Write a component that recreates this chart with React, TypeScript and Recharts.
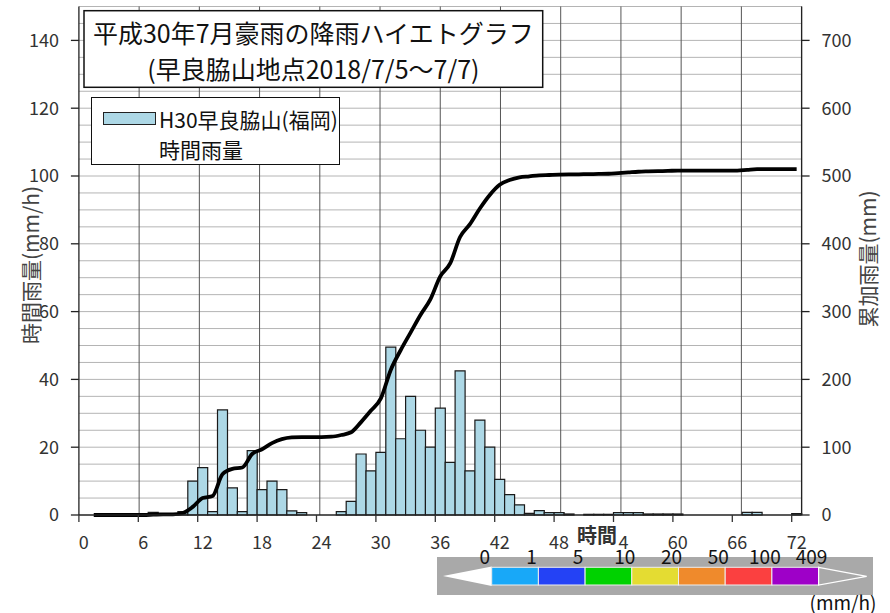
import React from "react";
import { ComposedChart, Bar, Line, XAxis, YAxis, Legend, ReferenceLine } from "recharts";

const FONT = '"Noto Sans CJK JP", "Noto Sans", sans-serif';

// 経過時間 (h)、7/5 0時から 72 時間
const hours = Array.from({ length: 73 }, (_, i) => i);

// 時間雨量 (mm/h)
const hourlyRain = [
  0, 0, 0, 0, 0, 0, 0, 0.8, 0, 0,
  1, 10, 14, 1, 31, 8, 1, 19, 7.5, 10,
  7.5, 1.2, 0.7, 0, 0, 0, 1, 4, 18, 13,
  18.5, 49.5, 22.5, 35, 25, 20, 31.5, 15.5, 42.5, 13,
  28, 20, 10.5, 6, 3, 0.5, 1.3, 0.7, 0.7, 0.3,
  0, 0.2, 0.2, 0.2, 0.7, 0.7, 0.7, 0.3, 0.3, 0.3,
  0.3, 0, 0, 0, 0, 0, 0, 0.8, 0.8, 0,
  0, 0, 0.4,
];

// 累加雨量 (mm)
const totalRain = [
  null, 0, 0, 0, 0, 0, 0, 0.5, 1, 1,
  3, 12, 25, 28, 60, 68, 70, 90, 97, 106,
  112, 114.5, 115, 115, 115, 115.5, 118, 122, 137, 154,
  172, 214, 243, 269, 295, 318, 352, 371, 410, 429,
  452, 472, 487, 494, 498, 499.5, 501, 501.5, 502, 502.3,
  502.5, 502.8, 503, 503.3, 504.3, 505.3, 506.3, 506.8, 507.2, 507.5,
  508, 508, 508, 508, 508, 508, 508, 509, 510, 510,
  510, 510, 510,
];

const rainTicks = [0, 20, 40, 60, 80, 100, 120, 140];
const totalTicks = [0, 100, 200, 300, 400, 500, 600, 700];
const gridTicks = Array.from({ length: 30 }, (_, i) => (i + 1) * 5);
const hourEdgeTicks = [6, 12, 18, 24, 30, 36, 42, 48, 54, 60, 66, 72];

// 雨量階級の凡例
const scaleLabels = ["0", "1", "5", "10", "20", "50", "100", "409"];
const scaleColors = ["#18a8f8", "#2442f5", "#00d200", "#e4dc32", "#ef8a2c", "#fb4040", "#9e00c8"];

const rows = hours.map((h, i) => ({ hour: h, rain: hourlyRain[i], total: totalRain[i] }));

const TICK_SIZE = 7;
const TICK_MARGIN = 14;
const BAR_FILL = "#add8e6";

// 目盛線は時間帯の境目、ラベルは帯の中央
function HourTick(props: any) {
  const { x, y, payload } = props;
  const edge = x - (payload.offset ?? 0);
  const axisY = y - TICK_MARGIN - TICK_SIZE;
  return (
    <g>
      <line x1={edge} x2={edge} y1={axisY} y2={axisY + TICK_SIZE} stroke="#333" strokeWidth={1.3} />
      <text x={x} y={y} dy="0.71em" textAnchor="middle" fill="#333" fontSize={18} fontFamily={FONT}>
        {payload.value}
      </text>
    </g>
  );
}

function RainLegend() {
  return (
    <div
      style={{
        width: 249,
        height: 68,
        boxSizing: "border-box",
        border: "1.5px solid #111",
        background: "#fff",
        fontFamily: FONT,
        fontSize: 21,
        color: "#111",
        position: "relative",
      }}
    >
      <div
        style={{
          position: "absolute",
          left: 11,
          top: 14,
          width: 51,
          height: 11,
          background: BAR_FILL,
          border: "1px solid #222",
        }}
      />
      <div style={{ position: "absolute", left: 67, top: 6, lineHeight: "30px", whiteSpace: "nowrap" }}>
        H30早良脇山(福岡)
        <br />
        時間雨量
      </div>
    </div>
  );
}

function ColorScale() {
  const x0 = 491.7;
  const w = 46.7;
  const y0 = 567.3;
  const h = 17.7;
  const end = x0 + w * scaleColors.length;
  return (
    <g>
      <rect x={437} y={557} width={436} height={38} fill="#a9a9a9" />
      <polygon points={`443,576 ${x0},566.5 ${x0},586`} fill="#fff" />
      {scaleColors.map((c, i) => (
        <rect key={c} x={x0 + i * w} y={y0} width={w} height={h} fill={c} stroke="#eee" strokeWidth={1} />
      ))}
      <polygon points={`${end},${y0} 866.7,576.3 ${end},${y0 + h}`} fill="#a9a9a9" stroke="#fff" strokeWidth={1.2} />
      {scaleLabels.map((t, i) => (
        <text
          key={t}
          x={x0 + i * w - 7}
          y={555}
          textAnchor="middle"
          dominantBaseline="central"
          fontSize={19}
          fontFamily={FONT}
          fill="#111"
        >
          {t}
        </text>
      ))}
      <text x={843} y={601} textAnchor="middle" dominantBaseline="central" fontSize={19} fontFamily={FONT} fill="#111">
        (mm/h)
      </text>
    </g>
  );
}

export default function App() {
  return (
    <div style={{ position: "absolute", left: 0, top: 0, width: 890, height: 613, background: "#fff" }}>
      <ComposedChart
        width={890}
        height={613}
        data={rows}
        margin={{ top: 6.5, right: 0, bottom: 68, left: 0 }}
        barCategoryGap={0}
        barGap={0}
      >
        {/* 目盛線: 横は 5 mm/h ごと、縦は 6 時間ごと（棒の背後に描く） */}
        {gridTicks.map((v) => (
          <ReferenceLine key={`y${v}`} xAxisId="edge" yAxisId="rain" y={v} stroke="#b4b4b4" strokeWidth={1} zIndex={-100} />
        ))}
        {hourEdgeTicks.map((t) => (
          <ReferenceLine key={`x${t}`} xAxisId="edge" yAxisId="rain" x={t} stroke="#555" strokeWidth={1} zIndex={-90} />
        ))}
        <XAxis
          xAxisId="hour"
          dataKey="hour"
          interval={5}
          height={30}
          tickSize={TICK_SIZE}
          tickMargin={TICK_MARGIN}
          tickLine={false}
          axisLine={{ stroke: "#222", strokeWidth: 1.3 }}
          tick={<HourTick />}
        />
        <XAxis xAxisId="edge" type="number" domain={[0, 73]} ticks={hourEdgeTicks} height={0} hide />
        <YAxis
          yAxisId="rain"
          domain={[0, 150]}
          ticks={rainTicks}
          width={78.9}
          tickSize={8}
          tickMargin={12}
          axisLine={{ stroke: "#222", strokeWidth: 1.3 }}
          tickLine={{ stroke: "#222", strokeWidth: 1.3 }}
          tick={{ fill: "#333", fontSize: 18, fontFamily: FONT }}
        />
        <YAxis
          yAxisId="total"
          orientation="right"
          domain={[0, 750]}
          ticks={totalTicks}
          width={88.4}
          tickSize={8}
          tickMargin={12}
          axisLine={{ stroke: "#222", strokeWidth: 1.3 }}
          tickLine={{ stroke: "#222", strokeWidth: 1.3 }}
          tick={{ fill: "#333", fontSize: 18, fontFamily: FONT }}
        />
        <Bar
          xAxisId="hour"
          yAxisId="rain"
          dataKey="rain"
          fill={BAR_FILL}
          stroke="#1a1a1a"
          strokeWidth={1.2}
          isAnimationActive={false}
        />
        <Line
          xAxisId="hour"
          yAxisId="total"
          dataKey="total"
          type="monotone"
          stroke="#000"
          strokeWidth={3.8}
          dot={false}
          activeDot={false}
          isAnimationActive={false}
        />
        <Legend
          layout="vertical"
          align="center"
          verticalAlign="middle"
          wrapperStyle={{ left: 91, top: 97, width: 249, height: 68 }}
          content={() => <RainLegend />}
        />
      </ComposedChart>
      <svg
        width={890}
        height={613}
        style={{ position: "absolute", left: 0, top: 0, pointerEvents: "none" }}
      >
        <rect x={84} y={10.7} width={458.7} height={76.6} fill="#fff" stroke="#111" strokeWidth={1.5} />
        <text x={313.4} y={32} textAnchor="middle" dominantBaseline="central" fontSize={25} fontFamily={FONT} fill="#111">
          平成30年7月豪雨の降雨ハイエトグラフ
        </text>
        <text x={313.4} y={68} textAnchor="middle" dominantBaseline="central" fontSize={25} fontFamily={FONT} fill="#111">
          (早良脇山地点2018/7/5～7/7)
        </text>
        <text
          x={30}
          y={265}
          transform="rotate(-90, 30, 265)"
          textAnchor="middle"
          dominantBaseline="central"
          fontSize={21}
          fontFamily={FONT}
          fill="#444"
        >
          時間雨量(mm/h)
        </text>
        <text
          x={867}
          y={259}
          transform="rotate(-90, 867, 259)"
          textAnchor="middle"
          dominantBaseline="central"
          fontSize={21}
          fontFamily={FONT}
          fill="#444"
        >
          累加雨量(mm)
        </text>
        <rect x={575} y={523} width={43} height={28} fill="#fff" />
        <text x={597} y={534} textAnchor="middle" dominantBaseline="central" fontSize={20} fontWeight="bold" fontFamily={FONT} fill="#333">
          時間
        </text>
        <ColorScale />
      </svg>
    </div>
  );
}
